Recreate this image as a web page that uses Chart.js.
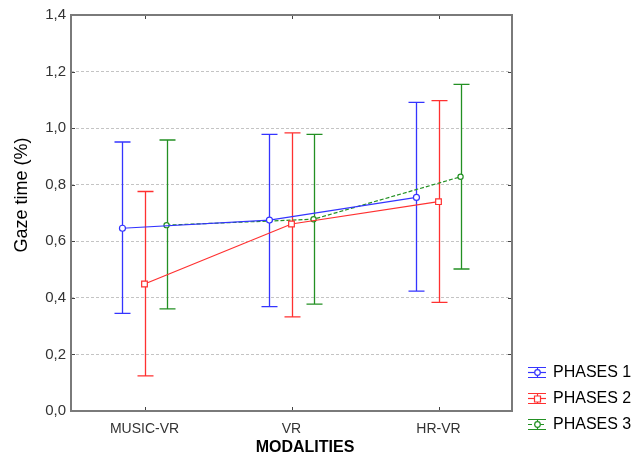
<!DOCTYPE html>
<html>
<head>
<meta charset="utf-8">
<script src="https://cdn.jsdelivr.net/npm/chart.js@4/dist/chart.umd.min.js"></script>
<style>
  html, body { margin: 0; padding: 0; background: #fff; }
  #wrap { width: 644px; height: 457px; }
</style>
</head>
<body>
<div id="wrap"><canvas id="gaze"></canvas></div>
<script>
// categories on the x axis
const categories = ["MUSIC-VR", "VR", "HR-VR"];

// means and error bar limits
const phase1Mean = [0.646, 0.675, 0.755];
const phase1Low  = [0.345, 0.369, 0.424];
const phase1High = [0.951, 0.978, 1.091];

const phase2Mean = [0.449, 0.661, 0.740];
const phase2Low  = [0.124, 0.333, 0.384];
const phase2High = [0.776, 0.983, 1.097];

const phase3Mean = [0.657, 0.678, 0.828];
const phase3Low  = [0.361, 0.378, 0.502];
const phase3High = [0.958, 0.978, 1.155];

const seriesLabels = ["PHASES 1", "PHASES 2", "PHASES 3"];
const xTitle = "MODALITIES";
const yTitle = "Gaze time (%)";

// horizontal shift of each series inside a category (in category units)
const shifts = [-0.15, 0, 0.15];

const FONT = "'Liberation Sans', Arial, sans-serif";

function points(means, k) {
  return means.map((v, i) => ({ x: i + shifts[k], y: v }));
}

const blue = "#3434ff", red = "#ff3030", green = "#239023";

// vertical whiskers with caps, drawn under the markers
const errorBars = {
  id: "errorBars",
  beforeDatasetsDraw(chart) {
    const ctx = chart.ctx;
    const yScale = chart.scales.y;
    chart.data.datasets.forEach((ds, k) => {
      const meta = chart.getDatasetMeta(k);
      ctx.save();
      ctx.strokeStyle = ds.borderColor;
      ctx.lineWidth = 1.3;
      meta.data.forEach((pt, i) => {
        const x = Math.round(pt.x) + 0.5;
        const yl = yScale.getPixelForValue(ds.low[i]);
        const yh = yScale.getPixelForValue(ds.high[i]);
        ctx.beginPath();
        ctx.moveTo(x, yl); ctx.lineTo(x, yh);
        ctx.moveTo(x - 8, yl); ctx.lineTo(x + 8, yl);
        ctx.moveTo(x - 8, yh); ctx.lineTo(x + 8, yh);
        ctx.stroke();
      });
      ctx.restore();
    });
  }
};

// frame, inward ticks, axis titles and the legend
const frame = {
  id: "frame",
  afterDraw(chart) {
    const ctx = chart.ctx;
    const a = chart.chartArea;
    const xs = chart.scales.x, ys = chart.scales.y;
    ctx.save();
    ctx.strokeStyle = "#444";
    ctx.lineWidth = 1;
    ctx.beginPath();
    ys.ticks.forEach(t => {
      const y = Math.round(ys.getPixelForValue(t.value)) + 0.5;
      ctx.moveTo(a.left, y); ctx.lineTo(a.left + 4, y);
      ctx.moveTo(a.right - 4, y); ctx.lineTo(a.right, y);
    });
    categories.forEach((c, i) => {
      const x = Math.round(xs.getPixelForValue(i)) + 0.5;
      ctx.moveTo(x, a.bottom); ctx.lineTo(x, a.bottom - 4);
      ctx.moveTo(x, a.top); ctx.lineTo(x, a.top + 4);
    });
    ctx.stroke();

    ctx.strokeStyle = "#7a7a7a";
    ctx.lineWidth = 2;
    ctx.strokeRect(a.left, a.top, a.right - a.left, a.bottom - a.top);

    // axis titles
    ctx.fillStyle = "#000";
    ctx.textAlign = "center";
    ctx.textBaseline = "middle";
    ctx.font = "bold 16px " + FONT;
    ctx.fillText(xTitle, 305, 448);
    ctx.save();
    ctx.translate(22, 195);
    ctx.rotate(-Math.PI / 2);
    ctx.font = "18px " + FONT;
    ctx.fillText(yTitle, 0, 0);
    ctx.restore();

    // legend
    ctx.textAlign = "left";
    const lx = 537, ly0 = 372, step = 25.8;
    chart.data.datasets.forEach((ds, k) => {
      const y = Math.round(ly0 + k * step) + 0.5;
      ctx.strokeStyle = ds.borderColor;
      ctx.lineWidth = 1.2;
      ctx.beginPath();
      ctx.moveTo(lx - 9, y - 5); ctx.lineTo(lx + 9, y - 5);
      ctx.moveTo(lx - 9, y + 5); ctx.lineTo(lx + 9, y + 5);
      ctx.moveTo(lx + 0.5, y - 5); ctx.lineTo(lx + 0.5, y + 5);
      ctx.stroke();
      ctx.setLineDash(ds.borderDash || []);
      ctx.beginPath();
      ctx.moveTo(lx - 9, y); ctx.lineTo(lx + 9, y);
      ctx.stroke();
      ctx.setLineDash([]);
      ctx.fillStyle = "#fff";
      ctx.beginPath();
      if (ds.pointStyle === "rect") {
        ctx.rect(lx - 2.5, y - 2.5, 6, 6);
      } else {
        ctx.arc(lx + 0.5, y, 2.8, 0, Math.PI * 2);
      }
      ctx.fill(); ctx.stroke();
      ctx.fillStyle = "#000";
      ctx.font = "16px " + FONT;
      ctx.fillText(ds.label, 553, y);
    });
    ctx.restore();
  }
};

new Chart(document.getElementById("gaze"), {
  type: "line",
  data: {
    datasets: [
      { label: seriesLabels[0], data: points(phase1Mean, 0), low: phase1Low, high: phase1High,
        borderColor: blue, backgroundColor: "#fff", borderWidth: 1.2,
        pointStyle: "circle", pointRadius: 3, pointBorderWidth: 1.2 },
      { label: seriesLabels[1], data: points(phase2Mean, 1), low: phase2Low, high: phase2High,
        borderColor: red, backgroundColor: "#fff", borderWidth: 1.2,
        pointStyle: "rect", pointRadius: 4, pointBorderWidth: 1.2 },
      { label: seriesLabels[2], data: points(phase3Mean, 2), low: phase3Low, high: phase3High,
        borderColor: green, backgroundColor: "#fff", borderWidth: 1.2, borderDash: [4, 2],
        pointStyle: "circle", pointRadius: 2.6, pointBorderWidth: 1.2 }
    ]
  },
  options: {
    responsive: true,
    maintainAspectRatio: false,
    animation: false,
    layout: { padding: { top: 15, right: 132, left: 0, bottom: 0 } },
    plugins: {
      legend: { display: false },
      tooltip: { enabled: false }
    },
    scales: {
      x: {
        type: "linear",
        min: -0.5, max: 2.5,
        afterFit: s => { s.height = 46; },
        afterBuildTicks: s => { s.ticks = categories.map((c, i) => ({ value: i })); },
        grid: { display: false, drawTicks: false },
        border: { display: false },
        ticks: {
          padding: 10,
          color: "#333",
          font: { family: FONT, size: 14 },
          callback: v => categories[v]
        }
      },
      y: {
        min: 0, max: 1.4,
        afterFit: s => { s.width = 71; },
        grid: { color: "#c4c4c4", lineWidth: 1, drawTicks: false },
        border: { display: false, dash: [3, 2] },
        ticks: {
          stepSize: 0.2,
          padding: 5,
          color: "#333",
          font: { family: FONT, size: 15 },
          callback: v => v.toFixed(1).replace(".", ",")
        }
      }
    }
  },
  plugins: [errorBars, frame]
});
</script>
</body>
</html>
